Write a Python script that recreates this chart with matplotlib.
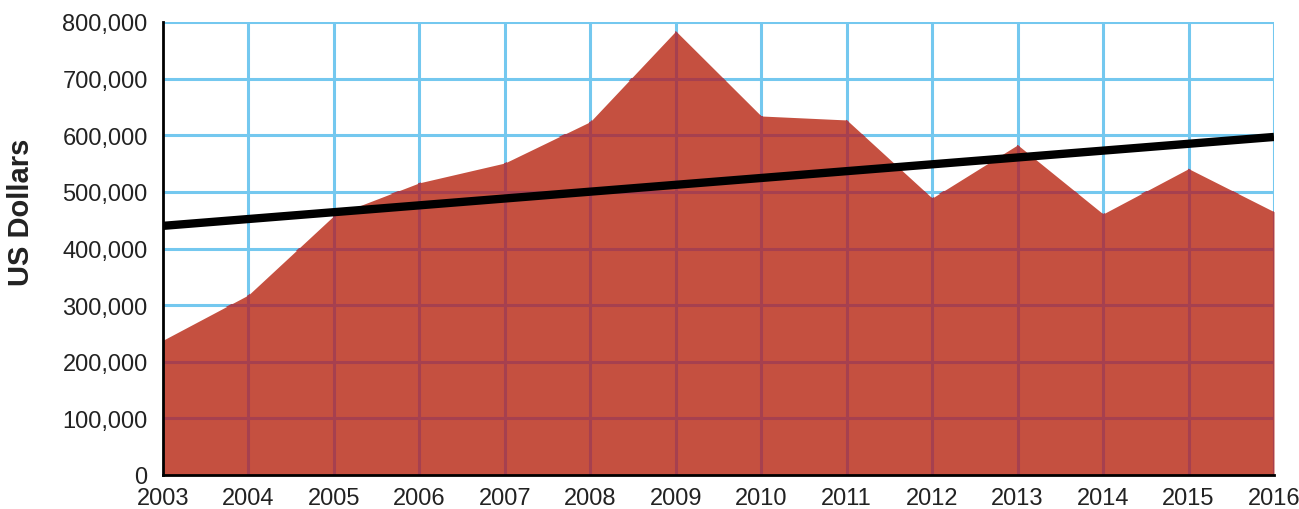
import numpy as np
import matplotlib.pyplot as plt

years = [2003, 2004, 2005, 2006, 2007, 2008, 2009, 2010, 2011, 2012, 2013, 2014, 2015, 2016]
values = [238000, 318000, 458000, 516000, 551000, 624000, 784000, 634000, 627000, 489000, 583000, 461000, 541000, 465000]
trend_years = [2003, 2016]
trend_values = [440000, 597000]
yticks = [0, 100000, 200000, 300000, 400000, 500000, 600000, 700000, 800000]

plt.rcParams['font.family'] = ['Liberation Sans', 'DejaVu Sans']

fig = plt.figure(figsize=(12.99, 5.10), dpi=100)
ax = fig.add_axes([163/1299, 1-476/510, (1274-163)/1299, (476-23)/510])

fill = ax.fill_between(years, 0, values, color='#c55040', lw=0, zorder=2)
clip = fill.get_paths()[0]

# blue grid underneath, darker grid clipped to the red area on top
for y in yticks[1:]:
	ax.axhline(y, color='#74c8ef', lw=2.2, zorder=1)
	l = ax.axhline(y, color='#a6404f', lw=2.2, zorder=3)
	l.set_clip_path(clip, ax.transData)
for x in years[1:]:
	ax.axvline(x, color='#74c8ef', lw=2.2, zorder=1)
	l = ax.axvline(x, color='#a6404f', lw=2.2, zorder=3)
	l.set_clip_path(clip, ax.transData)

ax.plot(trend_years, trend_values, color='black', lw=6, solid_capstyle='butt', zorder=4)

ax.set_xlim(2003, 2016)
ax.set_ylim(0, 800000)
ax.set_xticks(years)
ax.set_yticks(yticks)
ax.set_yticklabels(['{:,}'.format(v) for v in yticks])
ax.tick_params(length=0, labelsize=17, labelcolor='#222222')
ax.tick_params(axis='y', pad=11)
ax.tick_params(axis='x', pad=9)
for s in ['top', 'right']:
	ax.spines[s].set_visible(False)
for s in ['left', 'bottom']:
	ax.spines[s].set_linewidth(2)
	ax.spines[s].set_zorder(5)
ax.spines['bottom'].set_bounds(2003, 2016)
ax.set_ylabel('US Dollars', fontsize=21, fontweight='bold', color='#222222')
ax.yaxis.set_label_coords(-0.115, 0.583)

fig.savefig('out.png', dpi=100)
